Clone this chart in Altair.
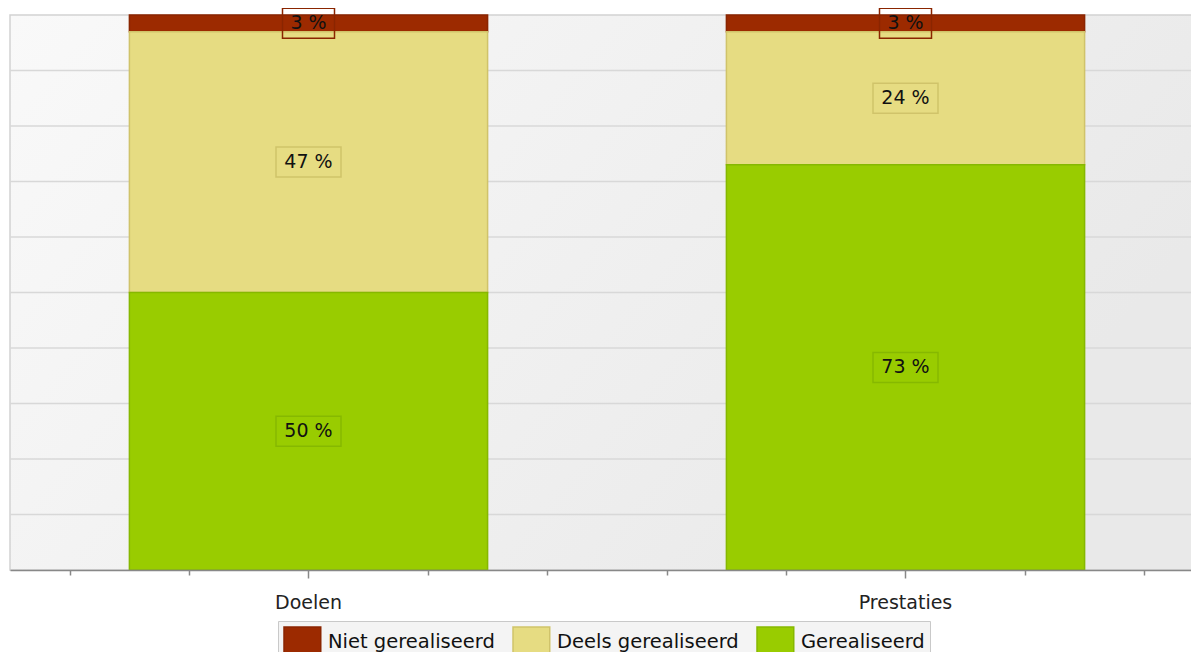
import altair as alt
import pandas as pd

categories = ["Doelen", "Prestaties"]
series = ["Niet gerealiseerd", "Deels gerealiseerd", "Gerealiseerd"]
niet = [3, 3]
deels = [47, 24]
gereal = [50, 73]
fill_colors = ["#9C2A00", "#E6DC82", "#99CC00"]
stroke_colors = ["#8A2500", "#D0C36A", "#86B800"]
grid_values = [10, 20, 30, 40, 50, 60, 70, 80, 90]
minor_ticks = [0.1, 0.3, 0.7, 0.9, 1.1, 1.3, 1.7, 1.9]
stack_rank = {"Gerealiseerd": 0, "Deels gerealiseerd": 1, "Niet gerealiseerd": 2}

rows = []
for i, c in enumerate(categories):
    for s, vals in zip(series, [niet, deels, gereal]):
        rows.append({"cat": c, "status": s, "value": vals[i],
                     "rank": stack_rank[s], "label": f"{vals[i]} %"})
df = pd.DataFrame(rows)

W = 1181          # visible plot width (page is only 1199 wide)
XR = 1194         # full x range, the reference plot runs past the window edge
H = 555
FONT = "DejaVu Sans"

yscale = alt.Scale(domain=[0, 100], nice=False)
xscale = alt.Scale(domain=categories, range=[0, XR], paddingInner=0.4, paddingOuter=0.2)
color_scale = alt.Scale(domain=series, range=fill_colors)
stroke_scale = alt.Scale(domain=series, range=stroke_colors)

bg = alt.Chart(pd.DataFrame({"a": [0]})).mark_rect(
    color=alt.LinearGradient(
        gradient="linear",
        stops=[alt.GradientStop(color="#f9f9f9", offset=0),
               alt.GradientStop(color="#e9e9e9", offset=1)],
        x1=0, y1=0, x2=1, y2=0.4),
    stroke="#d2d2d2", strokeWidth=1.5,
).encode(x=alt.value(0), x2=alt.value(W + 6), y=alt.value(0), y2=alt.value(H))

grid = alt.Chart(pd.DataFrame({"g": grid_values})).mark_rule(
    color="#d8d8d8", strokeWidth=1.5
).encode(y=alt.Y("g:Q", scale=yscale, axis=None))

bars = alt.Chart(df).mark_bar(strokeWidth=1.5).encode(
    x=alt.X("cat:N", sort=categories, scale=xscale,
            axis=alt.Axis(title=None, orient="bottom", labelFont=FONT, labelFontSize=19,
                          labelColor="#222", tickSize=8, tickColor="#888",
                          tickWidth=1.5, domainColor="#888", domainWidth=1.5,
                          labelPadding=15, labelAngle=0, grid=False, zindex=1)),
    y=alt.Y("value:Q", stack="zero", scale=yscale, axis=None),
    order=alt.Order("rank:Q", sort="ascending"),
    color=alt.Color("status:N", scale=color_scale,
                    legend=alt.Legend(
                        orient="none", legendX=268, legendY=606,
                        direction="horizontal", title=None,
                        symbolType="M-1,-1H1.45V1H-1Z", symbolSize=900,
                        symbolStrokeWidth=1.5, symbolOpacity=1,
                        labelFont=FONT, labelFontSize=19.5, labelColor="#111",
                        labelLimit=400, labelOffset=13, columnPadding=15,
                        padding=5, fillColor="#f4f4f4", strokeColor="#c9c9c9")),
    stroke=alt.Stroke("status:N", scale=stroke_scale),
)

stacked = alt.Chart(df).transform_stack(
    stack="value", as_=["y0", "y1"], groupby=["cat"],
    sort=[alt.SortField("rank", order="ascending")]
).transform_calculate(
    mid="(datum.y0 + datum.y1) / 2"
).transform_calculate(
    lo="datum.mid - 2.7", hi="datum.mid + 2.7"
)

boxes_wide = stacked.transform_filter("datum.value >= 10").mark_bar(
    width=65, fillOpacity=0, strokeWidth=1.5
).encode(
    x=alt.X("cat:N", sort=categories, scale=xscale),
    y=alt.Y("lo:Q", stack=None, scale=yscale),
    y2="hi:Q",
    stroke=alt.Stroke("status:N", scale=stroke_scale),
)

boxes_narrow = stacked.transform_filter("datum.value < 10").mark_bar(
    width=52, fillOpacity=0, strokeWidth=1.5
).encode(
    x=alt.X("cat:N", sort=categories, scale=xscale),
    y=alt.Y("lo:Q", stack=None, scale=yscale),
    y2="hi:Q",
    stroke=alt.Stroke("status:N", scale=stroke_scale),
)

texts = stacked.mark_text(font=FONT, fontSize=19, color="#111", baseline="middle").encode(
    x=alt.X("cat:N", sort=categories, scale=xscale),
    y=alt.Y("mid:Q", stack=None, scale=yscale),
    text="label:N",
)

main = alt.layer(bg, grid, bars, boxes_wide, boxes_narrow, texts)

minor = alt.Chart(pd.DataFrame({"t": minor_ticks})).mark_tick(opacity=0).encode(
    x=alt.X("t:Q", scale=alt.Scale(domain=[0, 2], range=[0, XR], nice=False, zero=False),
            axis=alt.Axis(values=minor_ticks, labels=False, domain=False,
                          ticks=True, tickSize=5, tickColor="#888", tickWidth=1.5,
                          grid=False, title=None, orient="bottom", zindex=1))
)

chart = alt.layer(main, minor).resolve_scale(x="independent").properties(
    width=W, height=H,
    autosize=alt.AutoSizeParams(type="none"),
    padding={"left": 2, "top": 7, "right": 0, "bottom": 82},
).configure_view(stroke=None)

chart.save("out.html", embed_options={"renderer": "svg", "actions": False})
